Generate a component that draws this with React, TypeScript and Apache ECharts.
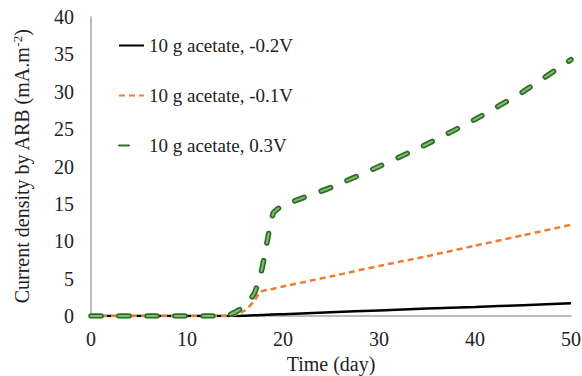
import React, { useEffect, useRef } from "react";
import * as echarts from "echarts";

const days = [0, 2, 4, 6, 8, 10, 12, 14, 15, 16, 17, 17.6, 18, 18.5, 19, 20, 25, 30, 35, 40, 45, 50];
const seriesNames = ["10 g acetate, -0.2V", "10 g acetate, -0.1V", "10 g acetate, 0.3V"];
const black = [0, 0, 0, 0, 0, 0, 0, 0, 0, 0.05, 0.1, 0.13, 0.15, 0.17, 0.2, 0.25, 0.5, 0.75, 1.0, 1.2, 1.45, 1.7];
const orange = [0, 0, 0, 0, 0, 0, 0, 0, 0.15, 0.7, 2.0, 3.2, 3.4, 3.5, 3.65, 3.95, 5.3, 6.7, 8.0, 9.4, 10.8, 12.2];
const green = [0, 0, 0, 0, 0, 0, 0, 0, 0.5, 1.3, 3.0, 5.2, 7.5, 11, 13.8, 14.8, 17.2, 20, 23, 26.3, 30, 34.3];
const xTicks = [0, 10, 20, 30, 40, 50];
const yTicks = [0, 5, 10, 15, 20, 25, 30, 35, 40];

const FONT = "'Liberation Serif', 'Times New Roman', serif";

function pairs(ys: number[]) {
  return days.map((d, i) => [d, ys[i]]);
}

export default function App() {
  const ref = useRef<HTMLDivElement>(null);
  useEffect(() => {
    if (!ref.current) return;
    const chart = echarts.init(ref.current, null, { renderer: "svg" });
    chart.setOption({
      animation: false,
      backgroundColor: "#ffffff",
      grid: { left: 91, right: 11, top: 17, bottom: 60, outerBoundsMode: "none", containLabel: false },
      legend: {
        data: seriesNames,
        orient: "vertical",
        left: 113,
        top: 31,
        itemWidth: 25,
        itemHeight: 14,
        itemGap: 31,
        itemStyle: { opacity: 0 },
        textStyle: { fontFamily: FONT, fontSize: 19, color: "#222" },
      },
      xAxis: {
        type: "value",
        min: xTicks[0],
        max: xTicks[xTicks.length - 1],
        interval: 10,
        name: "Time (day)",
        nameLocation: "middle",
        nameGap: 37,
        nameTextStyle: { fontFamily: FONT, fontSize: 20, color: "#222" },
        axisLine: { show: true, lineStyle: { color: "#a6a6a6", width: 1.5 } },
        axisTick: { show: false },
        splitLine: { show: false },
        axisLabel: { fontFamily: FONT, fontSize: 20, color: "#222", margin: 13 },
      },
      yAxis: {
        type: "value",
        min: yTicks[0],
        max: yTicks[yTicks.length - 1],
        interval: 5,
        name: "{a|Current density by ARB (mA.m}{s|-2}{a|)}",
        nameLocation: "middle",
        nameGap: 58,
        nameTextStyle: {
          rich: {
            a: { fontFamily: FONT, fontSize: 20, color: "#222" },
            s: { fontFamily: FONT, fontSize: 13, color: "#222", verticalAlign: "top", padding: [0, 0, 9, 0] },
          },
        },
        axisLine: { show: true, lineStyle: { color: "#a6a6a6", width: 1.5 } },
        axisTick: { show: false },
        splitLine: { show: false },
        axisLabel: { fontFamily: FONT, fontSize: 20, color: "#222", margin: 17 },
      },
      series: [
        {
          name: seriesNames[0],
          type: "line",
          data: pairs(black),
          symbol: "none",
          smooth: 0.15,
          lineStyle: { color: "#000000", width: 2.5 },
          itemStyle: { color: "#000000" },
          z: 3,
        },
        {
          name: seriesNames[1],
          type: "line",
          data: pairs(orange),
          symbol: "none",
          smooth: 0.15,
          lineStyle: { color: "#ED7D31", width: 2.5, type: [6, 4] },
          itemStyle: { color: "#ED7D31" },
          z: 4,
        },
        {
          name: seriesNames[2],
          type: "line",
          data: pairs(green),
          symbol: "none",
          smooth: 0.15,
          lineStyle: { color: "#2f6e2a", width: 5.5, type: [10, 18], cap: "round" },
          itemStyle: { color: "#2f6e2a" },
          z: 5,
        },
        {
          name: "green-inner",
          type: "line",
          data: pairs(green),
          symbol: "none",
          smooth: 0.15,
          lineStyle: { color: "#7fbf6a", width: 2, type: [10, 18], cap: "round" },
          itemStyle: { color: "#7fbf6a" },
          z: 6,
          silent: true,
        },
      ],
    });
    return () => chart.dispose();
  }, []);
  return <div ref={ref} style={{ width: 582, height: 376, position: "absolute", left: 0, top: 0 }} />;
}
